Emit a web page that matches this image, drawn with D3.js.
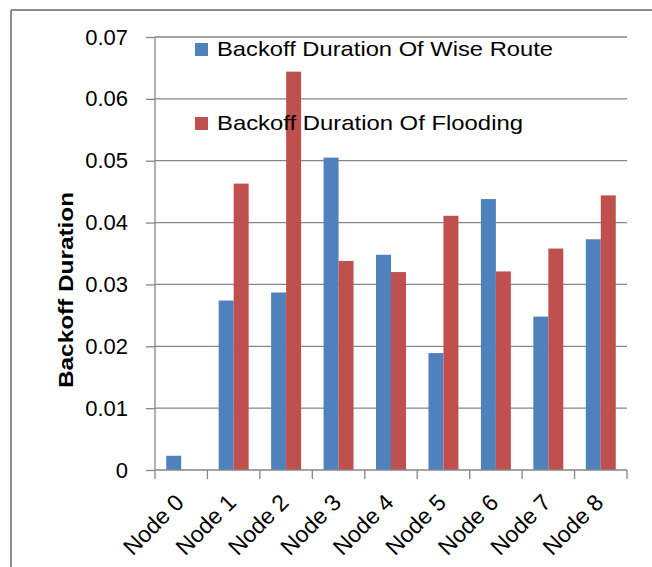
<!DOCTYPE html>
<html>
<head>
<meta charset="utf-8">
<script src="https://cdn.jsdelivr.net/npm/d3@7"></script>
<style>
  html, body { margin: 0; padding: 0; background: #fff; }
  svg { display: block; }
  text { font-family: "Liberation Sans", Arial, sans-serif; fill: #000; }
</style>
</head>
<body>
<svg id="chart" width="652" height="567"></svg>
<script>
const categories = ["Node 0", "Node 1", "Node 2", "Node 3", "Node 4", "Node 5", "Node 6", "Node 7", "Node 8"];
const seriesNames = ["Backoff Duration Of Wise Route", "Backoff Duration Of Flooding"];
const wiseRoute = [0.0023, 0.0274, 0.0287, 0.0505, 0.0348, 0.0189, 0.0438, 0.0248, 0.0373];
const flooding = [0, 0.0463, 0.0644, 0.0338, 0.0320, 0.0411, 0.0321, 0.0358, 0.0444];
const yTicks = [0, 0.01, 0.02, 0.03, 0.04, 0.05, 0.06, 0.07];
const yTickLabels = ["0", "0.01", "0.02", "0.03", "0.04", "0.05", "0.06", "0.07"];
const colors = ["#4f81bd", "#c0504d"];

const svg = d3.select("#chart");
const gridColor = "#868686";

// outer chart border (only top and left visible)
svg.append("line").attr("x1", 11).attr("x2", 652).attr("y1", 10).attr("y2", 10)
  .attr("stroke", "#8c8c8c").attr("stroke-width", 2);
svg.append("line").attr("x1", 11).attr("x2", 11).attr("y1", 10).attr("y2", 567)
  .attr("stroke", "#8c8c8c").attr("stroke-width", 2);

const plot = { left: 155, right: 627, top: 37, bottom: 470 };

const x = d3.scaleBand().domain(categories).range([plot.left, plot.right]).paddingInner(0).paddingOuter(0);
const y = d3.scaleLinear().domain([0, 0.07]).range([plot.bottom, plot.top]);

// gridlines and y ticks
const yAxis = d3.axisLeft(y).tickValues(yTicks).tickSize(9).tickFormat((d, i) => yTickLabels[i]);
const gy = svg.append("g").attr("transform", `translate(${plot.left},0)`).call(yAxis);
gy.select(".domain").remove();
gy.selectAll(".tick line").attr("stroke", gridColor).attr("stroke-width", 1.3);
gy.selectAll(".tick text").attr("x", -27).attr("dy", "0.32em")
  .style("font-size", "22px").style("font-family", "Liberation Sans, Arial, sans-serif").attr("fill", "#000");

svg.append("g").selectAll("line").data(yTicks.filter(d => d > 0)).join("line")
  .attr("x1", plot.left).attr("x2", plot.right)
  .attr("y1", d => y(d)).attr("y2", d => y(d))
  .attr("stroke", gridColor).attr("stroke-width", 1.3);

// bars
const x1 = d3.scaleBand().domain([0, 1]).range([0, x.bandwidth()]).paddingInner(0).paddingOuter(0.75);
const data = categories.map((c, i) => ({ c, vals: [wiseRoute[i], flooding[i]] }));
const groups = svg.append("g").selectAll("g").data(data).join("g")
  .attr("transform", d => `translate(${x(d.c)},0)`);
groups.selectAll("rect").data(d => d.vals.map((v, k) => ({ v, k }))).join("rect")
  .attr("x", d => x1(d.k))
  .attr("width", x1.bandwidth())
  .attr("y", d => y(d.v))
  .attr("height", d => plot.bottom - y(d.v))
  .attr("fill", d => colors[d.k]);

// y axis line
svg.append("line").attr("x1", plot.left).attr("x2", plot.left).attr("y1", plot.top).attr("y2", plot.bottom)
  .attr("stroke", gridColor).attr("stroke-width", 1.3);

// x axis
const xAxis = d3.axisBottom(x).tickSize(0).tickFormat("");
const gx = svg.append("g").attr("transform", `translate(0,${plot.bottom})`).call(xAxis);
gx.select(".domain").attr("stroke", gridColor).attr("stroke-width", 1.3).attr("d", `M${plot.left},0H${plot.right}`);
gx.selectAll(".tick").remove();
const boundaries = categories.map(c => x(c)).concat([plot.right]);
gx.selectAll("line.bt").data(boundaries).join("line").attr("class", "bt")
  .attr("x1", d => d).attr("x2", d => d).attr("y1", 0).attr("y2", 9)
  .attr("stroke", gridColor).attr("stroke-width", 1.3);

// x labels rotated
svg.append("g").selectAll("text").data(categories).join("text")
  .attr("transform", d => `translate(${x(d) + x.bandwidth() / 2 + 4},${504}) rotate(-45)`)
  .attr("text-anchor", "end")
  .style("font-size", "23px")
  .text(d => d);

// y title
svg.append("text")
  .attr("transform", "translate(73,290) rotate(-90)")
  .attr("text-anchor", "middle")
  .style("font-size", "21px").style("font-weight", "bold")
  .attr("textLength", 196).attr("lengthAdjust", "spacingAndGlyphs")
  .text("Backoff Duration");

// legend
const legendY = [56, 130];
const legendLen = [336, 306];
const lg = svg.append("g");
seriesNames.forEach((name, i) => {
  lg.append("rect").attr("x", 195).attr("y", legendY[i] - 13).attr("width", 13).attr("height", 13).attr("fill", colors[i]);
  lg.append("text").attr("x", 217).attr("y", legendY[i]).style("font-size", "21px")
    .attr("textLength", legendLen[i]).attr("lengthAdjust", "spacingAndGlyphs").text(name);
});
</script>
</body>
</html>
